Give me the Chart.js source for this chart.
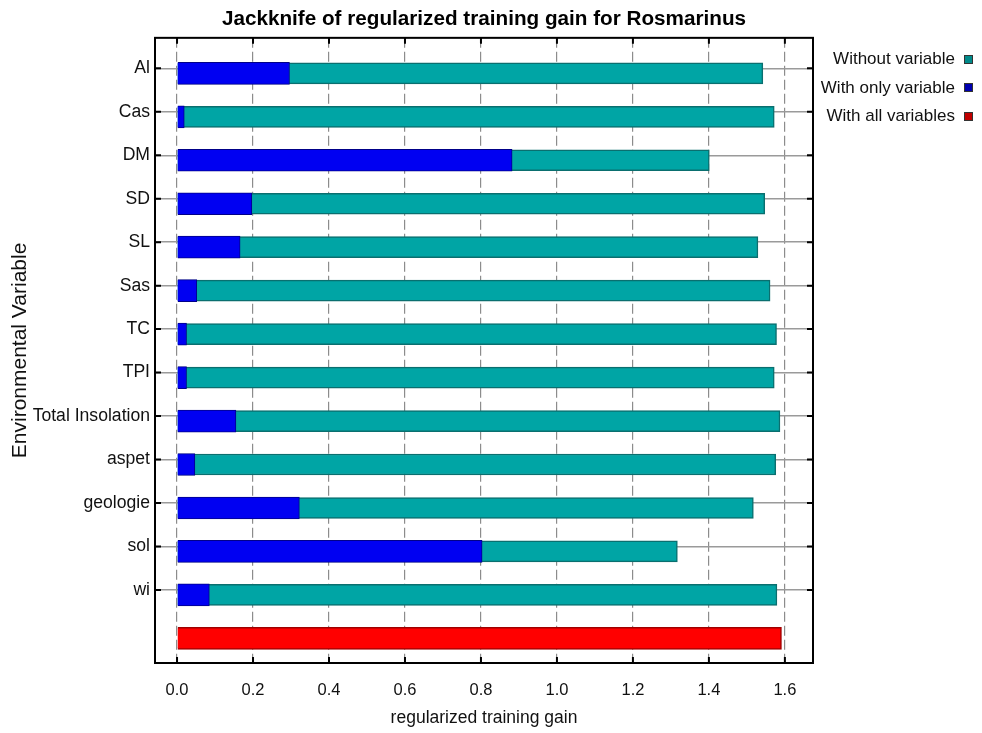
<!DOCTYPE html>
<html>
<head>
<meta charset="utf-8">
<script src="https://cdn.jsdelivr.net/npm/chart.js@4/dist/chart.umd.min.js"></script>
<style>
  body { margin: 0; background: #fff; }
  #wrap { position: relative; width: 982px; height: 733px; }
  #legend { position: absolute; right: 9px; top: 45px; font-family: "Liberation Sans", Arial, sans-serif; font-size: 17px; color: #111; }
  #legend div { display: flex; justify-content: flex-end; align-items: center; height: 28.5px; }
  #legend span.box { display: inline-block; width: 7px; height: 7px; margin-left: 9px; border: 1px solid #333; }
</style>
</head>
<body>
<div id="wrap">
  <canvas id="jackknife" width="982" height="733"></canvas>
  <div id="legend"></div>
</div>
<script>
// variables (top to bottom)
const variables = ["Al", "Cas", "DM", "SD", "SL", "Sas", "TC", "TPI", "Total Insolation", "aspet", "geologie", "sol", "wi"];
// gain without each variable
const withoutVariable = [1.542, 1.572, 1.401, 1.547, 1.529, 1.561, 1.578, 1.572, 1.587, 1.576, 1.517, 1.317, 1.579];
// gain with only each variable
const withOnlyVariable = [0.296, 0.019, 0.882, 0.197, 0.166, 0.052, 0.025, 0.025, 0.155, 0.047, 0.322, 0.803, 0.085];
// gain with all variables
const withAllVariables = 1.591;
const xTicks = [0.0, 0.2, 0.4, 0.6, 0.8, 1.0, 1.2, 1.4, 1.6];

const sans = "'Liberation Sans', Arial, sans-serif";

// frame and inward tick marks
const framePlugin = {
    id: "frame",
    afterDraw(chart) {
        const ctx = chart.ctx;
        const a = chart.chartArea;
        ctx.save();
        ctx.strokeStyle = "#000";
        ctx.lineWidth = 2;
        ctx.strokeRect(a.left, a.top, a.right - a.left, a.bottom - a.top);
        ctx.beginPath();
        chart.scales.x.ticks.forEach(t => {
            const px = chart.scales.x.getPixelForValue(t.value);
            ctx.moveTo(px, a.top); ctx.lineTo(px, a.top + 6);
            ctx.moveTo(px, a.bottom); ctx.lineTo(px, a.bottom - 6);
        });
        chart.scales.y.ticks.forEach(t => {
            const py = chart.scales.y.getPixelForValue(t.value);
            ctx.moveTo(a.left, py); ctx.lineTo(a.left + 6, py);
            ctx.moveTo(a.right, py); ctx.lineTo(a.right - 6, py);
        });
        ctx.stroke();
        ctx.restore();
    }
};

const datasets = [
    {
        label: "With only variable",
        data: withOnlyVariable.map((v, i) => ({ x: v, y: i })),
        backgroundColor: "#0000f2",
        borderColor: "#000088",
        borderWidth: 1,
        barThickness: 22,
        order: 1
    },
    {
        label: "Without variable",
        data: withoutVariable.map((v, i) => ({ x: v, y: i })),
        backgroundColor: "#00a5a5",
        borderColor: "#0a6f6f",
        borderWidth: 1.5,
        barThickness: 21,
        order: 2
    },
    {
        label: "With all variables",
        data: [{ x: withAllVariables, y: variables.length }],
        backgroundColor: "#ff0000",
        borderColor: "#a00000",
        borderWidth: 1.5,
        barThickness: 22,
        order: 3
    }
];

new Chart(document.getElementById("jackknife").getContext("2d"), {
    type: "bar",
    data: { datasets: datasets },
    options: {
        indexAxis: "y",
        responsive: false,
        animation: false,
        layout: { padding: { left: 0, right: 169, top: 0, bottom: 0 } },
        datasets: { bar: { grouped: false } },
        plugins: {
            legend: { display: false },
            tooltip: { enabled: false },
            title: {
                display: true,
                fullSize: false,
                text: "Jackknife of regularized training gain for Rosmarinus",
                color: "#000",
                font: { family: sans, size: 20.7, weight: "bold" },
                padding: { top: 7, bottom: 6 }
            }
        },
        scales: {
            x: {
                type: "linear",
                min: -0.058,
                max: 1.674,
                afterBuildTicks: axis => { axis.ticks = xTicks.map(v => ({ value: v })); },
                afterFit: axis => { axis.height = 70; },
                ticks: {
                    color: "#111",
                    padding: 18,
                    font: { family: sans, size: 16.5 },
                    callback: v => Number(v).toFixed(1)
                },
                grid: { color: "#8c8c8c", lineWidth: 1.2, drawTicks: false },
                border: { display: false, dash: [10, 4] },
                title: {
                    display: true,
                    text: "regularized training gain",
                    color: "#111",
                    font: { family: sans, size: 17.5 },
                    padding: { top: 0, bottom: 4 }
                }
            },
            y: {
                type: "linear",
                reverse: true,
                offset: false,
                min: -0.817,
                max: 13.567,
                afterBuildTicks: axis => { axis.ticks = variables.map((v, i) => ({ value: i - 0.115 })); },
                afterFit: axis => { axis.width = 155; },
                ticks: {
                    autoSkip: false,
                    color: "#111",
                    padding: 5,
                    font: { family: sans, size: 17.6 },
                    callback: (v, i) => variables[i]
                },
                grid: { offset: false, color: "#9a9a9a", lineWidth: 1.5, drawTicks: false },
                border: { display: false },
                title: {
                    display: true,
                    text: "Environmental Variable",
                    color: "#111",
                    font: { family: sans, size: 21 },
                    padding: { top: 8, bottom: 0 }
                }
            }
        }
    },
    plugins: [framePlugin]
});

// legend with the colour box on the right of the text
const legendBoxes = [["Without variable", "#008a8a"], ["With only variable", "#0000b0"], ["With all variables", "#c00000"]];
document.getElementById("legend").innerHTML = legendBoxes
    .map(([t, c]) => `<div>${t}<span class="box" style="background:${c}"></span></div>`)
    .join("");
</script>
</body>
</html>
